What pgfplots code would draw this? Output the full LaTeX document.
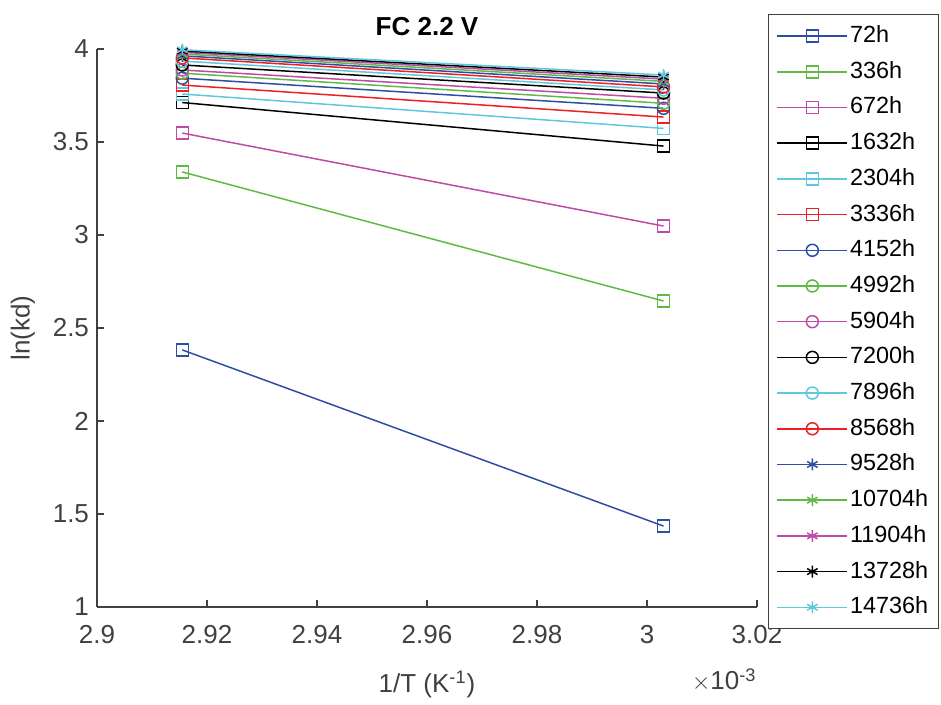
\documentclass[border=0pt]{standalone}
\usepackage{pgfplots}
\pgfplotsset{compat=1.18}
\usepackage{fontspec}
\setmainfont{Liberation Sans}
\definecolor{mblue}{RGB}{46,78,162}
\definecolor{mgreen}{RGB}{96,186,70}
\definecolor{mmag}{RGB}{190,75,165}
\definecolor{mcyan}{RGB}{95,200,220}
\definecolor{mred}{RGB}{238,32,36}
\definecolor{axgray}{RGB}{64,64,64}
\begin{document}
\begin{tikzpicture}
\begin{axis}[
  scale only axis,
  width=330pt, height=279pt,
  xmin=2.9, xmax=3.02, ymin=1, ymax=4,
  axis x line=bottom, axis y line=left,
  axis line style={-, axgray, line width=0.6pt},
  tick align=inside,
  major tick length=3.5pt,
  tick style={axgray, line width=0.6pt},
  xtick={2.9,2.92,2.94,2.96,2.98,3,3.02},
  xticklabels={2.9,2.92,2.94,2.96,2.98,3,3.02},
  ytick={1,1.5,2,2.5,3,3.5,4},
  yticklabels={1,1.5,2,2.5,3,3.5,4},
  ticklabel style={font=\fontsize{13}{15}\selectfont, text=axgray},
  xticklabel style={yshift=-5.5pt},
  yticklabel style={xshift=-0.5pt},
  /pgf/number format/assume math mode=true,
  title={\bfseries FC 2.2 V},
  title style={font=\fontsize{13}{15}\selectfont, yshift=-3pt},
  xlabel={1/T (K\textsuperscript{-1})},
  ylabel={ln(kd)},
  label style={font=\fontsize{13}{15}\selectfont, text=axgray},
  xlabel style={yshift=-7pt},
  ylabel style={yshift=2pt},
  clip=false,
  legend style={at={(1,1)}, anchor=north west, xshift=5.5pt, yshift=17.5pt,
    draw=axgray, line width=0.6pt, font=\fontsize{11.7}{14}\selectfont,
    nodes={inner sep=1pt, text height=9pt, text depth=2.5pt},
    row sep=4.35pt, inner xsep=4pt, inner ysep=4pt},
  legend cell align=left,
  legend image code/.code={\draw[mark repeat=2, mark phase=2] plot coordinates {(0pt,0pt) (17.5pt,0pt) (35pt,0pt)};},
  every axis plot/.append style={line width=0.75pt, mark size=3pt},
]
\path (rel axis cs:-0.147,-0.1631) rectangle (rel axis cs:1.2788,1.0878);
\addplot[mblue, mark=square] coordinates {(2.9155,2.382) (3.003,1.435)};
\addlegendentry{72h}
\addplot[mgreen, mark=square] coordinates {(2.9155,3.339) (3.003,2.645)};
\addlegendentry{336h}
\addplot[mmag, mark=square] coordinates {(2.9155,3.548) (3.003,3.048)};
\addlegendentry{672h}
\addplot[black, mark=square] coordinates {(2.9155,3.712) (3.003,3.478)};
\addlegendentry{1632h}
\addplot[mcyan, mark=square] coordinates {(2.9155,3.758) (3.003,3.573)};
\addlegendentry{2304h}
\addplot[mred, mark=square] coordinates {(2.9155,3.806) (3.003,3.634)};
\addlegendentry{3336h}
\addplot[mblue, mark=o] coordinates {(2.9155,3.843) (3.003,3.681)};
\addlegendentry{4152h}
\addplot[mgreen, mark=o] coordinates {(2.9155,3.870) (3.003,3.708)};
\addlegendentry{4992h}
\addplot[mmag, mark=o] coordinates {(2.9155,3.887) (3.003,3.735)};
\addlegendentry{5904h}
\addplot[black, mark=o] coordinates {(2.9155,3.914) (3.003,3.763)};
\addlegendentry{7200h}
\addplot[mcyan, mark=o] coordinates {(2.9155,3.935) (3.003,3.780)};
\addlegendentry{7896h}
\addplot[mred, mark=o] coordinates {(2.9155,3.952) (3.003,3.796)};
\addlegendentry{8568h}
\addplot[mblue, mark=asterisk] coordinates {(2.9155,3.963) (3.003,3.812)};
\addlegendentry{9528h}
\addplot[mgreen, mark=asterisk] coordinates {(2.9155,3.973) (3.003,3.826)};
\addlegendentry{10704h}
\addplot[mmag, mark=asterisk] coordinates {(2.9155,3.982) (3.003,3.838)};
\addlegendentry{11904h}
\addplot[black, mark=asterisk] coordinates {(2.9155,3.989) (3.003,3.849)};
\addlegendentry{13728h}
\addplot[mcyan, mark=asterisk] coordinates {(2.9155,3.996) (3.003,3.860)};
\addlegendentry{14736h}
\node[anchor=base east, font=\fontsize{13}{15}\selectfont, text=axgray, inner sep=0pt] at ([yshift=-41.5pt]rel axis cs:1,0) {$\times$10\textsuperscript{-3}};
\end{axis}
\end{tikzpicture}
\end{document}
